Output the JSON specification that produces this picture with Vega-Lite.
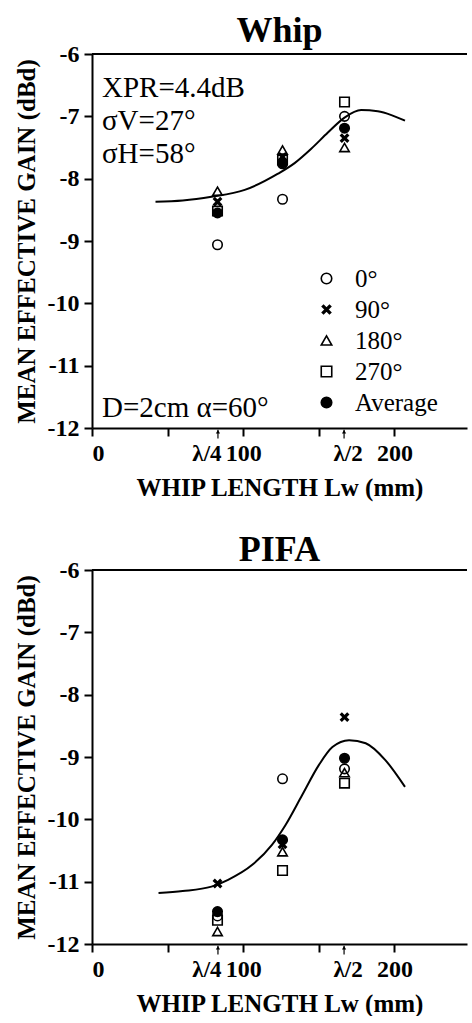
{
  "$schema": "https://vega.github.io/schema/vega-lite/v6.json",
  "background": "white",
  "padding": {"left": 14, "top": 13, "right": 0, "bottom": 0},
  "spacing": 32,
  "config": {
    "font": "Liberation Serif",
    "view": {"stroke": null},
    "axis": {
      "grid": false,
      "labelFont": "Liberation Serif", "labelFontWeight": "bold", "labelFontSize": 24, "labelColor": "black",
      "titleFont": "Liberation Serif", "titleFontWeight": "bold", "titleFontSize": 25, "titleColor": "black",
      "domainColor": "black", "domainWidth": 2, "tickColor": "black", "tickWidth": 2, "tickSize": 8, "labelPadding": 5
    },
    "title": {"font": "Liberation Serif", "fontSize": 36, "fontWeight": "bold", "color": "black", "anchor": "middle", "offset": -8},
    "legend": {
      "labelFont": "Liberation Serif", "labelFontSize": 25, "labelColor": "black",
      "symbolStrokeColor": "black", "symbolStrokeWidth": 1.6, "symbolSize": 110, "padding": 0, "rowPadding": 5, "labelOffset": 16
    }
  },
  "datasets": {
    "whip_pts": [
      {"length": 83, "gain": -9.06, "series": "0°"},
      {"length": 83, "gain": -8.37, "series": "90°"},
      {"length": 83, "gain": -8.2, "series": "180°"},
      {"length": 83, "gain": -8.52, "series": "270°"},
      {"length": 83, "gain": -8.55, "series": "Average"},
      {"length": 126, "gain": -8.33, "series": "0°"},
      {"length": 126, "gain": -7.65, "series": "90°"},
      {"length": 126, "gain": -7.54, "series": "180°"},
      {"length": 126, "gain": -7.7, "series": "270°"},
      {"length": 126, "gain": -7.76, "series": "Average"},
      {"length": 167, "gain": -7.0, "series": "0°"},
      {"length": 167, "gain": -7.35, "series": "90°"},
      {"length": 167, "gain": -7.5, "series": "180°"},
      {"length": 167, "gain": -6.77, "series": "270°"},
      {"length": 167, "gain": -7.19, "series": "Average"}
    ],
    "pifa_pts": [
      {"length": 83, "gain": -11.55, "series": "0°"},
      {"length": 83, "gain": -11.03, "series": "90°"},
      {"length": 83, "gain": -11.8, "series": "180°"},
      {"length": 83, "gain": -11.62, "series": "270°"},
      {"length": 83, "gain": -11.48, "series": "Average"},
      {"length": 126, "gain": -9.35, "series": "0°"},
      {"length": 126, "gain": -10.4, "series": "90°"},
      {"length": 126, "gain": -10.52, "series": "180°"},
      {"length": 126, "gain": -10.82, "series": "270°"},
      {"length": 126, "gain": -10.33, "series": "Average"},
      {"length": 167, "gain": -9.19, "series": "0°"},
      {"length": 167, "gain": -8.36, "series": "90°"},
      {"length": 167, "gain": -9.25, "series": "180°"},
      {"length": 167, "gain": -9.42, "series": "270°"},
      {"length": 167, "gain": -9.02, "series": "Average"}
    ],
    "whip_curve": [
      {"length": 42, "gain": -8.37}, {"length": 60, "gain": -8.35}, {"length": 79, "gain": -8.29},
      {"length": 101, "gain": -8.18}, {"length": 123, "gain": -7.92}, {"length": 134, "gain": -7.75},
      {"length": 145, "gain": -7.52}, {"length": 156, "gain": -7.26}, {"length": 167, "gain": -7.02},
      {"length": 178, "gain": -6.9}, {"length": 189, "gain": -6.92}, {"length": 198, "gain": -6.98},
      {"length": 207, "gain": -7.07}
    ],
    "pifa_curve": [
      {"length": 44, "gain": -11.18}, {"length": 60, "gain": -11.15}, {"length": 79, "gain": -11.08},
      {"length": 90, "gain": -10.97}, {"length": 106, "gain": -10.73}, {"length": 119, "gain": -10.41},
      {"length": 128, "gain": -10.09}, {"length": 139, "gain": -9.61}, {"length": 150, "gain": -9.13},
      {"length": 159, "gain": -8.84}, {"length": 170, "gain": -8.73}, {"length": 181, "gain": -8.78},
      {"length": 194, "gain": -9.05}, {"length": 207, "gain": -9.48}
    ],
    "lambda": [
      {"length": 83.3, "label": "λ/4"},
      {"length": 166.7, "label": "λ/2"}
    ],
    "frame": [{"gain": -6}],
    "notes": [
      {"length": 6.6, "gain": -6.69, "text": "XPR=4.4dB"},
      {"length": 6.6, "gain": -7.22, "text": "σV=27°"},
      {"length": 6.6, "gain": -7.75, "text": "σH=58°"},
      {"length": 6.6, "gain": -11.82, "text": "D=2cm α=60°"}
    ]
  },
  "resolve": {"legend": {"shape": "independent", "fill": "independent", "stroke": "independent"}},
  "vconcat": [
    {
      "title": "Whip",
      "width": 375,
      "height": 374,
      "layer": [
        {
          "data": {"name": "frame"},
          "mark": {"type": "rule", "color": "black", "strokeWidth": 2},
          "encoding": {"y": {"field": "gain", "type": "quantitative"}}
        },
        {
          "data": {"name": "whip_curve"},
          "mark": {"type": "line", "color": "black", "strokeWidth": 2, "interpolate": "monotone"},
          "encoding": {
            "x": {"field": "length", "type": "quantitative"},
            "y": {"field": "gain", "type": "quantitative"}
          }
        },
        {
          "data": {"name": "whip_pts"},
          "mark": {"type": "point", "filled": true, "strokeWidth": 1.6, "size": 90, "opacity": 1},
          "encoding": {
            "x": {"field": "length", "type": "quantitative",
              "scale": {"domain": [0, 248], "nice": false, "zero": false},
              "axis": {"values": [0, 50, 100, 150, 200], "labelExpr": "datum.value % 100 === 0 ? datum.label : ''", "title": "WHIP LENGTH Lw (mm)", "titlePadding": 10}},
            "y": {"field": "gain", "type": "quantitative",
              "scale": {"domain": [-12, -6], "nice": false, "zero": false},
              "axis": {"values": [-12, -11, -10, -9, -8, -7, -6], "labelExpr": "toString(datum.value)", "title": "MEAN EFFECTIVE GAIN (dBd)", "titlePadding": 8}},
            "shape": {"field": "series", "type": "nominal",
              "scale": {"domain": ["0°", "90°", "180°", "270°", "Average"], "range": ["circle", "M-0.8,-0.56L-0.56,-0.8L0,-0.24L0.56,-0.8L0.8,-0.56L0.24,0L0.8,0.56L0.56,0.8L0,0.24L-0.56,0.8L-0.8,0.56L-0.24,0Z", "triangle-up", "square", "circle"]},
              "legend": {"title": null, "orient": "none", "legendX": 222, "legendY": 212}},
            "fill": {"field": "series", "type": "nominal",
              "scale": {"domain": ["0°", "90°", "180°", "270°", "Average"], "range": ["transparent", "black", "transparent", "transparent", "black"]},
              "legend": {"title": null, "orient": "none", "legendX": 222, "legendY": 212}},
            "stroke": {"field": "series", "type": "nominal",
              "scale": {"domain": ["0°", "90°", "180°", "270°", "Average"], "range": ["black", "black", "black", "black", "black"]},
              "legend": {"title": null, "orient": "none", "legendX": 222, "legendY": 212}}
          }
        },
        {
          "data": {"name": "notes"},
          "mark": {"type": "text", "align": "left", "baseline": "alphabetic", "fontSize": 29, "font": "Liberation Serif", "color": "black"},
          "encoding": {
            "x": {"field": "length", "type": "quantitative"},
            "y": {"field": "gain", "type": "quantitative"},
            "text": {"field": "text"}
          }
        },
        {
          "data": {"name": "lambda"},
          "transform": [{"filter": "datum.label === 'λ/4'"}],
          "mark": {"type": "text", "align": "center", "baseline": "top", "fontSize": 23, "fontWeight": "bold", "font": "Liberation Serif", "color": "black", "dy": 15, "dx": -11},
          "encoding": {
            "x": {"field": "length", "type": "quantitative"},
            "y": {"datum": -12},
            "text": {"field": "label"}
          }
        },
        {
          "data": {"name": "lambda"},
          "transform": [{"filter": "datum.label === 'λ/2'"}],
          "mark": {"type": "text", "align": "center", "baseline": "top", "fontSize": 23, "fontWeight": "bold", "font": "Liberation Serif", "color": "black", "dy": 15, "dx": 4},
          "encoding": {
            "x": {"field": "length", "type": "quantitative"},
            "y": {"datum": -12},
            "text": {"field": "label"}
          }
        },
        {
          "data": {"name": "lambda"},
          "mark": {"type": "rule", "color": "black", "strokeWidth": 1.2},
          "encoding": {
            "x": {"field": "length", "type": "quantitative"},
            "y": {"datum": -12.03},
            "y2": {"datum": -12.17}
          }
        },
        {
          "data": {"name": "lambda"},
          "mark": {"type": "point", "shape": "triangle-up", "filled": true, "color": "black", "size": 18, "opacity": 1},
          "encoding": {
            "x": {"field": "length", "type": "quantitative"},
            "y": {"datum": -12.06}
          }
        }
      ]
    },
    {
      "title": {"text": "PIFA", "offset": -11},
      "width": 375,
      "height": 374,
      "layer": [
        {
          "data": {"name": "frame"},
          "mark": {"type": "rule", "color": "black", "strokeWidth": 2},
          "encoding": {"y": {"field": "gain", "type": "quantitative"}}
        },
        {
          "data": {"name": "pifa_curve"},
          "mark": {"type": "line", "color": "black", "strokeWidth": 2, "interpolate": "monotone"},
          "encoding": {
            "x": {"field": "length", "type": "quantitative"},
            "y": {"field": "gain", "type": "quantitative"}
          }
        },
        {
          "data": {"name": "pifa_pts"},
          "mark": {"type": "point", "filled": true, "strokeWidth": 1.6, "size": 90, "opacity": 1},
          "encoding": {
            "x": {"field": "length", "type": "quantitative",
              "scale": {"domain": [0, 248], "nice": false, "zero": false},
              "axis": {"values": [0, 50, 100, 150, 200], "labelExpr": "datum.value % 100 === 0 ? datum.label : ''", "title": "WHIP LENGTH Lw (mm)", "titlePadding": 10}},
            "y": {"field": "gain", "type": "quantitative",
              "scale": {"domain": [-12, -6], "nice": false, "zero": false},
              "axis": {"values": [-12, -11, -10, -9, -8, -7, -6], "labelExpr": "toString(datum.value)", "title": "MEAN EFFECTIVE GAIN (dBd)", "titlePadding": 8}},
            "shape": {"field": "series", "type": "nominal",
              "scale": {"domain": ["0°", "90°", "180°", "270°", "Average"], "range": ["circle", "M-0.8,-0.56L-0.56,-0.8L0,-0.24L0.56,-0.8L0.8,-0.56L0.24,0L0.8,0.56L0.56,0.8L0,0.24L-0.56,0.8L-0.8,0.56L-0.24,0Z", "triangle-up", "square", "circle"]},
              "legend": null},
            "fill": {"field": "series", "type": "nominal",
              "scale": {"domain": ["0°", "90°", "180°", "270°", "Average"], "range": ["transparent", "black", "transparent", "transparent", "black"]},
              "legend": null},
            "stroke": {"field": "series", "type": "nominal",
              "scale": {"domain": ["0°", "90°", "180°", "270°", "Average"], "range": ["black", "black", "black", "black", "black"]},
              "legend": null}
          }
        },
        {
          "data": {"name": "lambda"},
          "transform": [{"filter": "datum.label === 'λ/4'"}],
          "mark": {"type": "text", "align": "center", "baseline": "top", "fontSize": 23, "fontWeight": "bold", "font": "Liberation Serif", "color": "black", "dy": 15, "dx": -11},
          "encoding": {
            "x": {"field": "length", "type": "quantitative"},
            "y": {"datum": -12},
            "text": {"field": "label"}
          }
        },
        {
          "data": {"name": "lambda"},
          "transform": [{"filter": "datum.label === 'λ/2'"}],
          "mark": {"type": "text", "align": "center", "baseline": "top", "fontSize": 23, "fontWeight": "bold", "font": "Liberation Serif", "color": "black", "dy": 15, "dx": 4},
          "encoding": {
            "x": {"field": "length", "type": "quantitative"},
            "y": {"datum": -12},
            "text": {"field": "label"}
          }
        },
        {
          "data": {"name": "lambda"},
          "mark": {"type": "rule", "color": "black", "strokeWidth": 1.2},
          "encoding": {
            "x": {"field": "length", "type": "quantitative"},
            "y": {"datum": -12.03},
            "y2": {"datum": -12.17}
          }
        },
        {
          "data": {"name": "lambda"},
          "mark": {"type": "point", "shape": "triangle-up", "filled": true, "color": "black", "size": 18, "opacity": 1},
          "encoding": {
            "x": {"field": "length", "type": "quantitative"},
            "y": {"datum": -12.06}
          }
        }
      ]
    }
  ]
}
